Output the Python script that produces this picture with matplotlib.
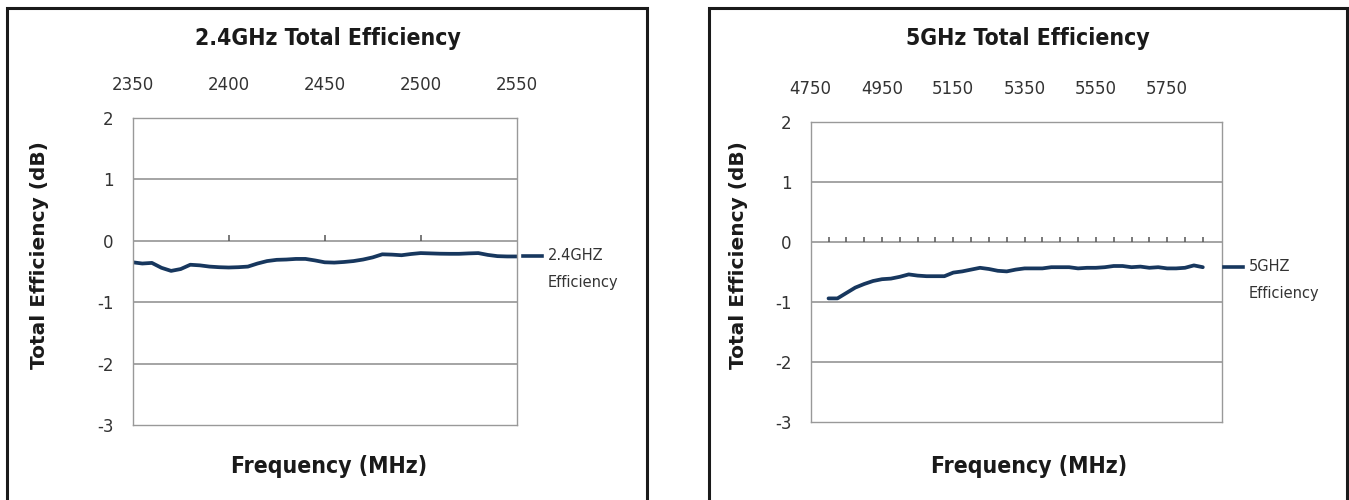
import numpy as np
import matplotlib
matplotlib.use("Agg")
import matplotlib.pyplot as plt
from matplotlib import font_manager
from matplotlib.lines import Line2D
from matplotlib.patches import Rectangle

# datos
freq_24 = [2350, 2355, 2360, 2365, 2370, 2375, 2380, 2385, 2390, 2395, 2400,
           2405, 2410, 2415, 2420, 2425, 2430, 2435, 2440, 2445, 2450, 2455,
           2460, 2465, 2470, 2475, 2480, 2485, 2490, 2495, 2500, 2505, 2510,
           2515, 2520, 2525, 2530, 2535, 2540, 2545, 2550]
eff_24 = [-0.35, -0.37, -0.36, -0.44, -0.49, -0.46, -0.39, -0.40, -0.42, -0.43, -0.435,
          -0.43, -0.42, -0.37, -0.33, -0.31, -0.305, -0.295, -0.295, -0.32, -0.35, -0.355,
          -0.345, -0.33, -0.305, -0.27, -0.22, -0.225, -0.235, -0.215, -0.20, -0.205, -0.21,
          -0.212, -0.212, -0.205, -0.20, -0.23, -0.25, -0.255, -0.255]

freq_5 = [4800, 4825, 4850, 4875, 4900, 4925, 4950, 4975, 5000, 5025, 5050,
          5075, 5100, 5125, 5150, 5175, 5200, 5225, 5250, 5275, 5300, 5325,
          5350, 5375, 5400, 5425, 5450, 5475, 5500, 5525, 5550, 5575, 5600,
          5625, 5650, 5675, 5700, 5725, 5750, 5775, 5800, 5825, 5850]
eff_5 = [-0.94, -0.94, -0.85, -0.76, -0.70, -0.65, -0.62, -0.61, -0.58, -0.54, -0.56,
         -0.57, -0.57, -0.57, -0.51, -0.49, -0.46, -0.43, -0.45, -0.48, -0.49, -0.46,
         -0.44, -0.44, -0.44, -0.42, -0.42, -0.42, -0.44, -0.43, -0.43, -0.42, -0.40,
         -0.40, -0.42, -0.41, -0.43, -0.42, -0.44, -0.44, -0.43, -0.39, -0.42]

top_ticks_24 = [2350, 2400, 2450, 2500, 2550]
zero_ticks_24 = [2400, 2450, 2500]
top_ticks_5 = [4750, 4950, 5150, 5350, 5550, 5750]
zero_ticks_5 = list(range(4800, 5851, 50))
y_ticks = [2, 1, 0, -1, -2, -3]

# fuente estrecha para titulos si existe
fuentes = font_manager.fontManager.ttflist
narrow, stretch = 'Roboto', 'normal'
for f in fuentes:
    if f.name == 'Liberation Sans Narrow':
        narrow, stretch = 'Liberation Sans Narrow', 'normal'
        break
    if f.name == 'DejaVu Sans' and f.stretch == 'condensed' and f.weight in ('bold', 700):
        narrow, stretch = 'DejaVu Sans', 'condensed'

W, H = 1349, 500
fig = plt.figure(figsize=(W / 100, H / 100), dpi=100)
color_linea = '#17375e'
gris = '#8c8c8c'


def px(x, y):
    return x / W, 1 - y / H


def panel(rect, freq, eff, xlim, top_ticks, zero_ticks, titulo, leyenda,
          box_x, title_xy, ylab_xy, xlab_xy, leg_xy):
    ax = fig.add_axes(rect)
    ax.plot(freq, eff, color=color_linea, lw=2.7, solid_capstyle='round',
            solid_joinstyle='round')
    ax.set_xlim(*xlim)
    ax.set_ylim(-3, 2)
    ax.set_yticks(y_ticks)
    ax.set_yticklabels([str(v) for v in y_ticks])
    for v in y_ticks[1:-1]:
        ax.axhline(v, color=gris, lw=1.1, zorder=1)
    ax.vlines(zero_ticks, 0, 0.09, color='#555555', lw=1.1)
    ax.xaxis.tick_top()
    ax.set_xticks(top_ticks)
    ax.set_xticklabels([str(t) for t in top_ticks])
    ax.tick_params(axis='x', length=0, pad=17, labelsize=12, labelcolor='#333333')
    ax.tick_params(axis='y', length=0, pad=14, labelsize=12, labelcolor='#333333')
    for s in ax.spines.values():
        s.set_color('#999999')
        s.set_linewidth(1.0)

    # marco exterior
    x0, y0 = px(box_x[0], 505)
    x1, y1 = px(box_x[1], 8)
    fig.add_artist(Rectangle((x0, y0), x1 - x0, y1 - y0, transform=fig.transFigure,
                             fill=False, ec='#1a1a1a', lw=2.2))

    fig.text(*px(*title_xy), titulo, ha='center', va='center', fontsize=16.5,
             fontweight='bold', family=narrow, fontstretch=stretch, color='#1a1a1a')
    fig.text(*px(*xlab_xy), 'Frequency (MHz)', ha='center', va='center', fontsize=16.5,
             fontweight='bold', family=narrow, fontstretch=stretch, color='#1a1a1a')
    fig.text(*px(*ylab_xy), 'Total Efficiency (dB)', ha='center', va='center',
             rotation=90, fontsize=14.5, fontweight='bold', color='#1a1a1a')

    lx, ly = leg_xy
    a, b = px(lx, ly)
    c, _ = px(lx + 19, ly)
    fig.add_artist(Line2D([a, c], [b, b], transform=fig.transFigure,
                          color=color_linea, lw=2.6))
    fig.text(*px(lx + 25, ly), leyenda, ha='left', va='center', fontsize=10.5,
             color='#333333')
    fig.text(*px(lx + 25, ly + 27), 'Efficiency', ha='left', va='center',
             fontsize=10.5, color='#333333')
    return ax


panel([132.7 / W, 1 - 425 / H, 384 / W, 307 / H], freq_24, eff_24, (2350, 2550),
      top_ticks_24, zero_ticks_24, '2.4GHz Total Efficiency', '2.4GHZ',
      (7, 647), (328, 39), (39.5, 255), (329, 467), (523, 256))

panel([810.7 / W, 1 - 422 / H, 411 / W, 300 / H], freq_5, eff_5, (4750, 5903),
      top_ticks_5, zero_ticks_5, '5GHz Total Efficiency', '5GHZ',
      (709, 1347), (1028, 39), (739, 255), (1029, 467), (1224, 266.5))

fig.savefig('out.png', dpi=100)
